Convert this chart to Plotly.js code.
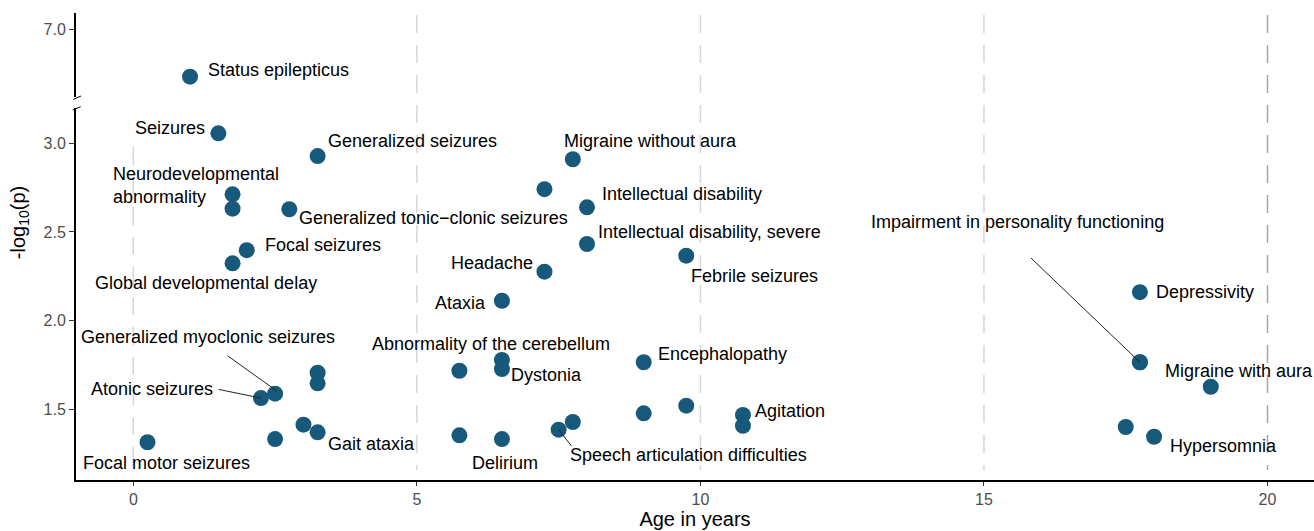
<!DOCTYPE html>
<html><head><meta charset="utf-8">
<script src="https://cdn.plot.ly/plotly-3.0.1.min.js"></script>
<style>html,body{margin:0;padding:0;background:#fff}#chart{width:1314px;height:531px}</style>
</head><body><div id="chart"></div>
<script>
// ---- data ----
const terms = [
 'Status epilepticus','Seizures','Generalized seizures','Neurodevelopmental<br>abnormality','',
 'Generalized tonic\u2212clonic seizures','Focal seizures','Global developmental delay','Migraine without aura','',
 'Intellectual disability','Intellectual disability, severe','Headache','Febrile seizures','Ataxia',
 'Depressivity','Migraine with aura','Impairment in personality functioning','','',
 'Hypersomnia','Encephalopathy','Abnormality of the cerebellum','Dystonia','',
 '','','Generalized myoclonic seizures','Atonic seizures','',
 'Gait ataxia','','Focal motor seizures','','Delirium',
 'Speech articulation difficulties','','','','Agitation',''
];
const ageYears = [
 1.0,1.5,3.25,1.75,1.75,
 2.75,2.0,1.75,7.75,7.25,
 8.0,8.0,7.25,9.75,6.5,
 17.75,17.75,17.75,19.0,17.5,
 18.0,9.0,6.5,6.5,5.75,
 3.25,3.25,2.5,2.25,3.0,
 3.25,2.5,0.25,5.75,6.5,
 7.5,7.75,9.0,9.75,10.75,10.75
];
const negLog10P = [
 6.735,3.056,2.928,2.712,2.631,
 2.628,2.397,2.323,2.910,2.741,
 2.639,2.432,2.276,2.366,2.112,
 2.160,1.765,1.765,1.627,1.400,
 1.345,1.765,1.778,1.727,1.717,
 1.706,1.646,1.588,1.563,1.413,
 1.370,1.332,1.314,1.353,1.332,
 1.385,1.428,1.477,1.520,1.468,1.407
];
const xTickVals = [0,5,10,15,20];
const xTickText = ['0','5','10','15','20'];
const yLowerTickVals = [1.5,2.0,2.5,3.0];
const yLowerTickText = ['1.5','2.0','2.5','3.0'];
const yUpperTickVals = [7.0];
const yUpperTickText = ['7.0'];
const breakValue = 5;

// ---- style ----
const FONT = 'Liberation Sans, Arial, Helvetica, sans-serif';
const PT = '#17597b';
// label placement: [xanchor, xshift px, yshift px]
const labelStyle = {
 'Status epilepticus':['left',16,6.7],
 'Seizures':['right',-11.6,5.3],
 'Generalized seizures':['left',8.4,15.3],
 'Neurodevelopmental<br>abnormality':['left',-121.3,9],
 'Generalized tonic\u2212clonic seizures':['left',8,-9],
 'Focal seizures':['left',16,5.3],
 'Global developmental delay':['left',-139.3,-20],
 'Migraine without aura':['left',-11,18.3],
 'Intellectual disability':['left',12.7,13.3],
 'Intellectual disability, severe':['left',8.7,11.7],
 'Headache':['right',-9.3,8.4],
 'Febrile seizures':['left',2.6,-20.3],
 'Ataxia':['right',-14,-2],
 'Depressivity':['left',14,0],
 'Migraine with aura':['left',22.7,-8.4],
 'Impairment in personality functioning':['center',-122,140.3],
 'Hypersomnia':['left',14,-9.3],
 'Encephalopathy':['left',12.3,8.3],
 'Abnormality of the cerebellum':['center',-10.5,16],
 'Dystonia':['left',6.7,-6],
 'Generalized myoclonic seizures':['left',-196,57],
 'Atonic seizures':['right',-45.7,9],
 'Gait ataxia':['left',8.4,-12],
 'Focal motor seizures':['left',-66.3,-21],
 'Delirium':['left',-31.6,-23.7],
 'Speech articulation difficulties':['left',9.3,-25.3],
 'Agitation':['left',10,4.3]
};
// connector segments relative to the point, px (x right, y up): [tailX, tailY, headX, headY]
const connectors = {
 'Impairment in personality functioning':[-109,104.3,0,0],
 'Generalized myoclonic seizures':[-47.3,37.7,1.7,2.7],
 'Atonic seizures':[-42.4,8.7,0,0],
 'Speech articulation difficulties':[12.7,-16.3,0,0]
};

const lowX=[],lowY=[],upX=[],upY=[];
ageYears.forEach((a,i)=>{ if(negLog10P[i]>breakValue){upX.push(a);upY.push(negLog10P[i]);} else {lowX.push(a);lowY.push(negLog10P[i]);} });

const traces = [
 {type:'scatter',mode:'markers',x:lowX,y:lowY,xaxis:'x',yaxis:'y',marker:{size:16,color:PT},hoverinfo:'skip',cliponaxis:false},
 {type:'scatter',mode:'markers',x:upX,y:upY,xaxis:'x',yaxis:'y2',marker:{size:16,color:PT},hoverinfo:'skip',cliponaxis:false}
];

const annotations = [];
const shapes = [];
terms.forEach((t,i)=>{
 if(!t) return;
 const yref = negLog10P[i]>breakValue ? 'y2':'y';
 const c = connectors[t];
 if(c){
  shapes.push({type:'line',xref:'x',yref:yref,xsizemode:'pixel',ysizemode:'pixel',
   xanchor:ageYears[i],yanchor:negLog10P[i],x0:c[0],y0:c[1],x1:c[2],y1:c[3],layer:'above',
   line:{color:'#222',width:1}});
 }
 const s = labelStyle[t];
 annotations.push({x:ageYears[i],y:negLog10P[i],xref:'x',yref:yref,text:t,showarrow:false,
  xanchor:s[0],yanchor:'middle',xshift:s[1],yshift:s[2],align:'left',
  font:{family:FONT,size:18,color:'#000'}});
});
annotations.push({xref:'paper',yref:'paper',x:0,y:0.55,xshift:-57,xanchor:'center',yanchor:'middle',
 textangle:-90,showarrow:false,text:'-log<sub>10</sub>(p)',font:{family:FONT,size:20,color:'#000'}});

xTickVals.forEach(v=>{
 shapes.push({type:'line',xref:'x',yref:'paper',x0:v,x1:v,y0:v===0?0.713:0.9957,y1:0.0214,layer:'below',
  line:{color:v===20?'#a8a8a8':'#d6d6d6',width:1.5,dash:'18px,12px'}});
});
// axis break marks
shapes.push({type:'line',xref:'paper',yref:'paper',xsizemode:'pixel',ysizemode:'pixel',xanchor:0,yanchor:0.8201,
 x0:-2.7,x1:5,y0:-2.3,y1:1,line:{color:'#000',width:1}});
shapes.push({type:'line',xref:'paper',yref:'paper',xsizemode:'pixel',ysizemode:'pixel',xanchor:0,yanchor:0.7966,
 x0:-3.3,x1:4.7,y0:-2,y1:1.3,line:{color:'#000',width:1}});

const axisCommon = {showgrid:false,zeroline:false,showline:true,linecolor:'#000',linewidth:2,
 ticks:'outside',tickcolor:'#333',tickwidth:1,automargin:false,
 tickfont:{family:FONT,size:16,color:'#4d4d4d'}};

const layout = {
 width:1314,height:531,
 margin:{l:76,r:0,t:13,b:51,pad:0},
 paper_bgcolor:'#fff',plot_bgcolor:'#fff',
 showlegend:false,
 font:{family:FONT},
 xaxis:Object.assign({},axisCommon,{range:[-1.011,20.82],tickmode:'array',tickvals:xTickVals,ticktext:xTickText,ticklen:4,
  anchor:'y',title:{text:'Age in years',font:{family:FONT,size:20,color:'#000'},standoff:4}}),
 yaxis:Object.assign({},axisCommon,{domain:[0,0.7966],range:[1.101,3.199],tickmode:'array',tickvals:yLowerTickVals,ticktext:yLowerTickText,ticklen:5,anchor:'x'}),
 yaxis2:Object.assign({},axisCommon,{domain:[0.8201,1],range:[6.620,7.094],tickmode:'array',tickvals:yUpperTickVals,ticktext:yUpperTickText,ticklen:5,anchor:'x'}),
 annotations:annotations,
 shapes:shapes
};
Plotly.newPlot('chart',traces,layout,{staticPlot:true,displayModeBar:false});
</script>
</body></html>
